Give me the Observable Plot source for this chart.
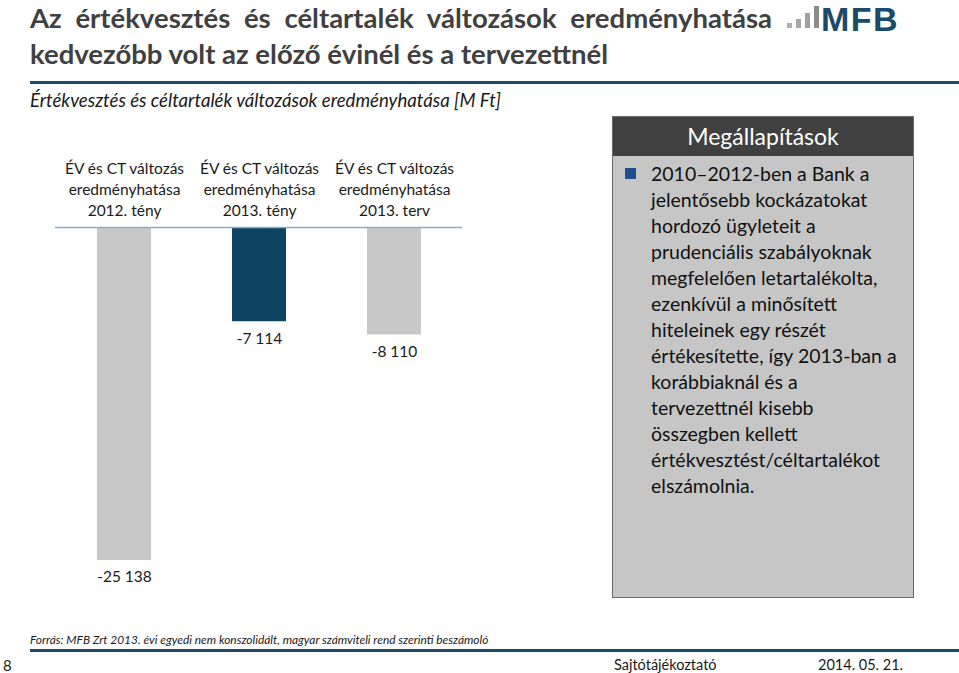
<!DOCTYPE html>
<html>
<head>
<meta charset="utf-8">
<script src="https://cdn.jsdelivr.net/npm/d3@7"></script>
<script src="https://cdn.jsdelivr.net/npm/@observablehq/plot@0.6"></script>
<style>
  html, body { margin: 0; padding: 0; background: #fff; }
  body { width: 959px; height: 673px; position: relative; overflow: hidden; font-family: Lato, "Open Sans", sans-serif; color: #1a1a1a; }
  .abs { position: absolute; white-space: nowrap; }
  #title { left: 30px; top: 0px; width: 742px; font-weight: bold; font-size: 27.5px; line-height: 36px; color: #404040; }
  #title .l1 { display: block; text-align: justify; text-align-last: justify; }
  #logobars { left: 784px; top: 1px; }
  #logotext { left: 821px; top: 0px; font-family: "Liberation Sans", Arial, sans-serif; font-weight: bold; font-size: 34px; line-height: normal; letter-spacing: 1.5px; color: #1b4a6b; }
  #rule1 { left: 30px; top: 81px; width: 929px; height: 3px; background: #1b4a6b; }
  #subtitle { left: 30px; top: 89px; font-style: italic; font-size: 18.6px; }
  #chart { left: 0; top: 140px; }
  #box { left: 612px; top: 116px; width: 300px; height: 480px; background: #c6c6c6; border: 1px solid #6a6a6a; }
  #boxhead { position: absolute; left: 0; top: 0; width: 300px; height: 39px; background: #404040; color: #fff; font-size: 23px; line-height: 39px; text-align: center; }
  #bullet { position: absolute; left: 12px; top: 51px; width: 11px; height: 11px; background: #1f4e8c; }
  #boxtext { position: absolute; left: 38px; top: 44px; font-size: 19.5px; line-height: 26px; white-space: pre; color: #111; }
  #source { left: 30px; top: 632px; font-style: italic; font-size: 11.9px; }
  #rule2 { left: 30px; top: 649px; width: 929px; height: 3px; background: #1b4a6b; }
  #page { left: 3px; top: 656px; font-size: 15px; }
  #press { left: 614px; top: 656px; font-size: 14.5px; }
  #date { left: 818px; top: 656px; font-size: 14.5px; }
</style>
</head>
<body>
<div id="title" class="abs"><span class="l1">Az értékvesztés és céltartalék változások eredményhatása</span><span>kedvezőbb volt az előző évinél és a tervezettnél</span></div>
<div id="logobars" class="abs">
  <svg width="36" height="32" viewBox="0 0 36 32">
    <rect x="3" y="22" width="5" height="5" fill="#b0b0b0"/>
    <rect x="12" y="18" width="5" height="9" fill="#a6a6a6"/>
    <rect x="21" y="12" width="5" height="15" fill="#a0a0a0"/>
    <rect x="30" y="5" width="5" height="22" fill="#8a8a8a"/>
  </svg>
</div>
<div id="logotext" class="abs">MFB</div>
<div id="rule1" class="abs"></div>
<div id="subtitle" class="abs">Értékvesztés és céltartalék változások eredményhatása [M Ft]</div>
<div id="chart" class="abs"></div>
<div id="box" class="abs">
  <div id="boxhead">Megállapítások</div>
  <div id="bullet"></div>
  <div id="boxtext"></div>
</div>
<div id="source" class="abs">Forrás: MFB Zrt 2013. évi egyedi nem konszolidált, magyar számviteli rend szerinti beszámoló</div>
<div id="rule2" class="abs"></div>
<div id="page" class="abs">8</div>
<div id="press" class="abs">Sajtótájékoztató</div>
<div id="date" class="abs">2014. 05. 21.</div>
<script>
// ---- data ----
const categories = [
  "ÉV és CT változás\neredményhatása\n2012. tény",
  "ÉV és CT változás\neredményhatása\n2013. tény",
  "ÉV és CT változás\neredményhatása\n2013. terv"
];
const values = [-25138, -7114, -8110];
const highlighted = categories[1];
const findings = [
  "2010\u20132012-ben a Bank a",
  "jelentősebb kockázatokat",
  "hordozó ügyleteit a",
  "prudenciális szabályoknak",
  "megfelelően letartalékolta,",
  "ezenkívül a minősített",
  "hiteleinek egy részét",
  "értékesítette, így 2013-ban a",
  "korábbiaknál és a",
  "tervezettnél kisebb",
  "összegben kellett",
  "értékvesztést/céltartalékot",
  "elszámolnia."
];

document.getElementById("boxtext").textContent = findings.join("\n");

const data = categories.map((c, i) => ({category: c, value: values[i]}));
const fmt = v => (v < 0 ? "-" : "") + d3.format(",")(Math.abs(v)).replace(/,/g, " ");

const chart = Plot.plot({
  width: 600,
  height: 460,
  marginTop: 87,
  marginLeft: 55,
  marginRight: 138,
  marginBottom: 0,
  style: {fontFamily: "Lato, sans-serif", fontSize: "15px", color: "#1a1a1a", background: "transparent"},
  x: {domain: categories, range: [14.7, 502.5], paddingInner: 0.6, paddingOuter: 0.6, axis: null},
  y: {domain: [-25138, 0], range: [420, 87], axis: null},
  marks: [
    Plot.barY(data, {x: "category", y: "value", fill: d => d.category === highlighted ? "#0e4463" : "#c8c8c8"}),
    Plot.ruleY([0], {stroke: "#8eaacb", strokeWidth: 1.5}),
    Plot.axisX({anchor: "top", tickSize: 0, tickPadding: 12, fontSize: 15.5, lineHeight: 1.33, label: null}),
    Plot.text(data, {x: "category", y: "value", text: d => fmt(d.value), dy: 17, lineAnchor: "middle", fontSize: 15.5, fill: "#1a1a1a"})
  ]
});
document.getElementById("chart").appendChild(chart);
</script>
</body>
</html>
